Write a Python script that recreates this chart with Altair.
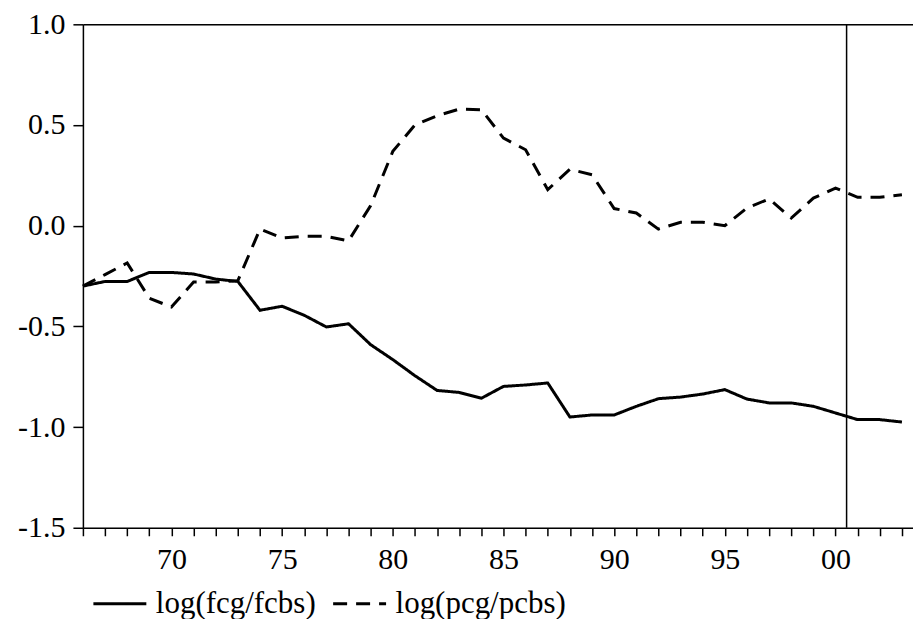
import altair as alt
import pandas as pd

years = list(range(1966, 2004))
fcg_fcbs = [-0.300, -0.277, -0.277, -0.232, -0.232, -0.240, -0.265, -0.277,
            -0.420, -0.400, -0.445, -0.503, -0.487, -0.591, -0.665, -0.745,
            -0.818, -0.828, -0.857, -0.798, -0.791, -0.781, -0.950, -0.940,
            -0.940, -0.897, -0.859, -0.851, -0.836, -0.814, -0.861, -0.880,
            -0.880, -0.897, -0.930, -0.963, -0.963, -0.975]
pcg_pcbs = [-0.300, -0.243, -0.185, -0.360, -0.404, -0.280, -0.280, -0.273,
            -0.017, -0.061, -0.053, -0.053, -0.075, 0.100, 0.369, 0.500,
            0.546, 0.579, 0.576, 0.435, 0.377, 0.179, 0.280, 0.253,
            0.085, 0.063, -0.017, 0.017, 0.017, 0.000, 0.088, 0.133,
            0.038, 0.137, 0.187, 0.141, 0.141, 0.154]
series_names = ["log(fcg/fcbs)", "log(pcg/pcbs)"]
break_year = 2000.5
x_domain = [1966, 2003.5]
y_domain = [-1.5, 1.0]
y_ticks = [-1.5, -1.0, -0.5, 0.0, 0.5, 1.0]

df = pd.concat([
    pd.DataFrame({"year": years, "value": fcg_fcbs, "series": series_names[0]}),
    pd.DataFrame({"year": years, "value": pcg_pcbs, "series": series_names[1]}),
])

FONT = "Liberation Serif"

x_bottom = alt.X(
    "year:Q",
    scale=alt.Scale(domain=x_domain, nice=False, zero=False),
    axis=alt.Axis(
        values=years, title=None, grid=False,
        labelExpr="datum.value % 5 == 0 ? slice(format(datum.value, 'd'), 2) : ''",
        labelOverlap=False, labelFont=FONT, labelFontSize=30, labelColor="black",
        labelPadding=9, tickSize=8, tickColor="black", tickWidth=1.5,
        domainColor="black", domainWidth=1.5, labelFlush=False,
    ),
)
y_left = alt.Y(
    "value:Q",
    scale=alt.Scale(domain=y_domain, nice=False, zero=False),
    axis=alt.Axis(
        values=y_ticks, title=None, grid=False,
        labelExpr="datum.value < 0 ? '-' + format(-datum.value, '.1f') : format(datum.value, '.1f')",
        labelFont=FONT, labelFontSize=30, labelColor="black", labelPadding=8,
        tickSize=10, tickColor="black", tickWidth=1.5,
        domainColor="black", domainWidth=1.5, labelFlush=False,
    ),
)

lines = alt.Chart(df).mark_line(strokeWidth=3, color="black").encode(
    x=x_bottom,
    y=y_left,
    strokeDash=alt.StrokeDash(
        "series:N",
        scale=alt.Scale(domain=series_names, range=[[1, 0], [14, 9]]),
        legend=alt.Legend(
            title=None, orient="none", direction="horizontal",
            legendX=9, legendY=552, symbolType="stroke", symbolSize=2809,
            symbolStrokeWidth=3, symbolStrokeColor="black",
            labelFont=FONT, labelFontSize=31, labelColor="black",
            labelOffset=8, columnPadding=10, labelLimit=400,
        ),
    ),
)

top_axis = alt.Chart(pd.DataFrame({"year": [break_year]})).mark_rule(
    color="black", strokeWidth=1.5
).encode(
    x=alt.X("year:Q", scale=alt.Scale(domain=x_domain, nice=False, zero=False),
            axis=alt.Axis(orient="top", labels=False, ticks=False, domain=True,
                          domainColor="black", domainWidth=1.5, grid=False, title=None)),
)

chart = alt.layer(lines, top_axis).resolve_axis(x="independent").properties(
    width=831, height=504,
    autosize=alt.AutoSizeParams(type="none"),
    padding={"left": 83, "top": 24, "right": 0, "bottom": 91},
).configure_view(stroke=None).configure(background="white")

chart.save("out.html", embed_options={"renderer": "svg", "actions": False})
